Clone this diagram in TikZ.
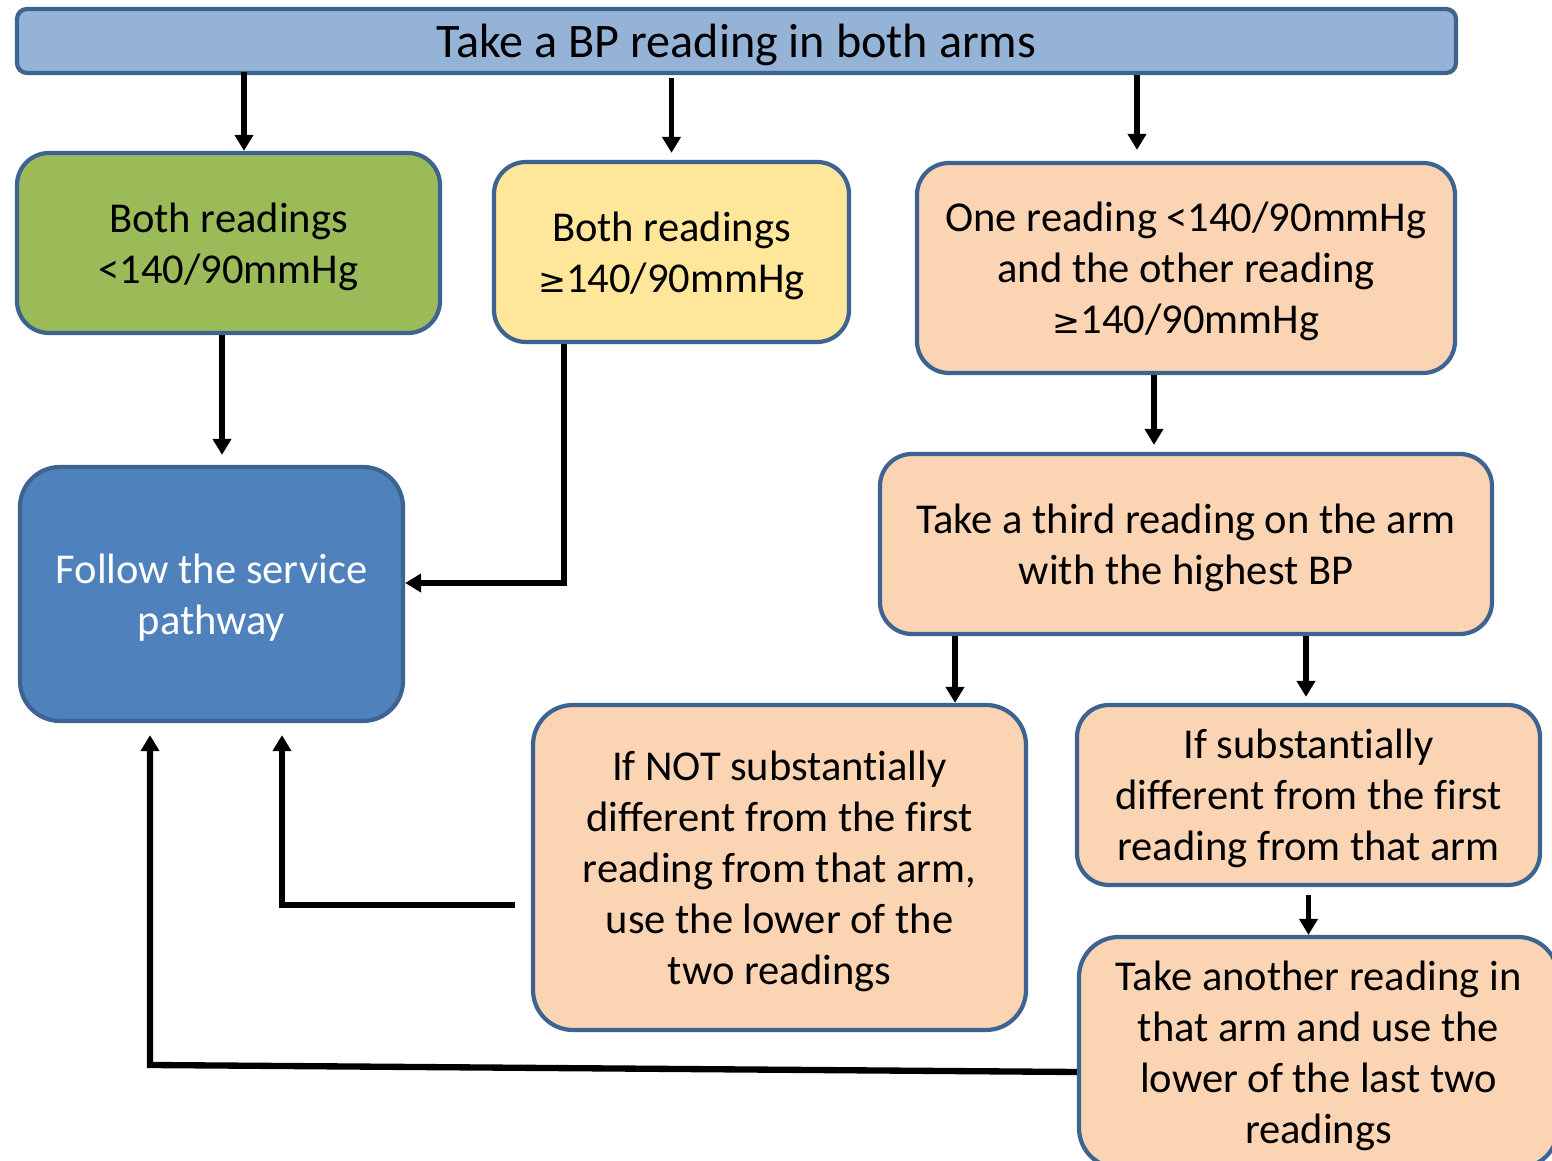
\documentclass[tikz,border=0pt]{standalone}
\usepackage{fontspec}
\setmainfont[Ligatures=NoCommon]{Carlito}
\newfontfamily\symfont{DejaVu Sans}
\usepackage{tikz}
\usetikzlibrary{arrows.meta,positioning}
\definecolor{eTop}{HTML}{95B3D7}
\definecolor{eGreen}{HTML}{9BBB59}
\definecolor{eYellow}{HTML}{FEE69A}
\definecolor{ePeach}{HTML}{FBD4B4}
\definecolor{eBlue}{HTML}{4F81BD}
\definecolor{eLine}{HTML}{3D6391}
\newcommand\gtesym{{\symfont\fontsize{9.5}{9.5}\selectfont ≥}}
\tikzset{box/.style={draw=eLine, line width=1.2pt, rounded corners=3.2mm,
  align=center, inner sep=0pt, text depth=0pt,
  font=\fontsize{12.1}{14.5}\selectfont}}
\tikzset{k/.style={draw, line width=1.5pt, -{Triangle[width=1.8mm,length=1.6mm]}}}
\tikzset{kk/.style={draw, line width=1.8pt, -{Triangle[width=1.8mm,length=1.6mm]}}}

\begin{document}
\begin{tikzpicture}
            \useasboundingbox (0,0) rectangle (15.52,-11.61);
            \clip (0,0) rectangle (15.52,-11.61);
            %%
            \node (t) at (7.365,-0.41) [box, fill=eTop, rounded corners=1mm,
                minimum width=14.39cm, minimum height=0.64cm,
                font=\fontsize{13.7}{15}\selectfont] {Take a BP reading in both arms};
            \node (g) at (2.285,-2.43) [box, fill=eGreen,
                minimum width=4.23cm, minimum height=1.8cm] {Both readings\\<140/90mmHg};
            \node (y) at (6.715,-2.52) [box, fill=eYellow,
                minimum width=3.55cm, minimum height=1.8cm] {Both readings\\\gtesym140/90mmHg};
            \node (o1) at (11.86,-2.68) [box, fill=ePeach,
                minimum width=5.38cm, minimum height=2.1cm]
                {One reading <140/90mmHg\\and the other reading\\\gtesym140/90mmHg};
            \node (p) at (2.115,-5.94) [box, fill=eBlue, text=white, rounded corners=4mm,
                minimum width=3.83cm, minimum height=2.54cm] {Follow the service\\pathway};
            \node (o2) at (11.86,-5.44) [box, fill=ePeach,
                minimum width=6.12cm, minimum height=1.8cm]
                {Take a third reading on the arm\\with the highest BP};
            \node (o3) at (7.795,-8.675) [box, fill=ePeach, rounded corners=4mm,
                minimum width=4.93cm, minimum height=3.25cm]
                {If NOT substantially\\different from the first\\reading from that arm,\\use the lower of the\\two readings};
            \node (o4) at (13.085,-7.95) [box, fill=ePeach,
                minimum width=4.63cm, minimum height=1.8cm]
                {If substantially\\different from the first\\reading from that arm};
            \node (o5) at (13.185,-10.525) [box, fill=ePeach, rounded corners=4mm,
                minimum width=4.79cm, minimum height=2.31cm]
                {Take another reading in\\that arm and use the\\lower of the last two\\readings};
            \coordinate (c) at (1.5,-10.65);
            %%
            \draw [k] ([xshift=1.55mm,yshift=0.3mm]g.north |- t.south) -- ([xshift=1.55mm]g.north);
            \draw [k] ([yshift=-0.3mm]t.south -| y.north) -- ([yshift=0.7mm]y.north);
            \draw [k] ([xshift=-4.9mm]o1.north |- t.south) -- ([xshift=-4.9mm,yshift=1.1mm]o1.north);
            %%
            \draw [k] ([xshift=-0.65mm]g.south) -- ([xshift=-0.65mm,yshift=1mm]g.south |- p.north);
            \draw [k] ([xshift=-10.75mm]y.south) |- ([yshift=1.1mm]p.east);
            %%
            \draw [k] ([xshift=-3.2mm]o1.south) -- ([xshift=-3.2mm,yshift=0.7mm]o1.south |- o2.north);
            \draw [k] ([xshift=-23.1mm]o2.south) -- ([xshift=-23.1mm]o2.south |- o3.north);
            \draw [k] ([xshift=12mm]o2.south) -- ([xshift=12mm,yshift=0.6mm]o2.south |- o4.north);
            \draw [k] ([yshift=-0.8mm]o4.south) -- (o4.south |- o5.north);
            %%
            \draw [kk] ([xshift=-1.6mm,yshift=-3.75mm]o3.west) -| ([xshift=7.05mm,yshift=-1.2mm]p.south);
            \draw [kk] ([yshift=-1.95mm]o5.west) -- (c) -- ([yshift=-1.2mm]c |- p.south);
\end{tikzpicture}
\end{document}
